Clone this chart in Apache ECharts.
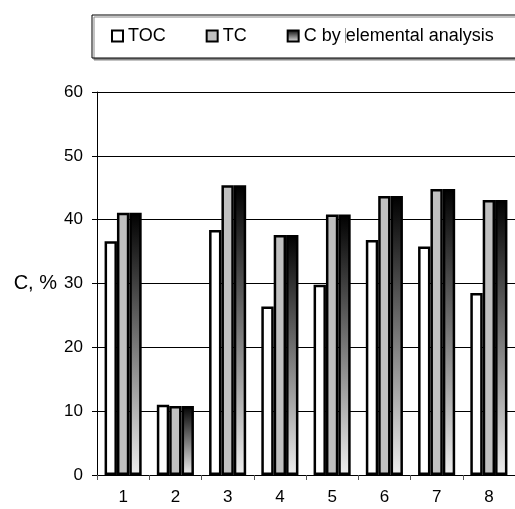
<!DOCTYPE html>
<html>
<head>
<meta charset="utf-8">
<script src="https://cdn.jsdelivr.net/npm/echarts@6/dist/echarts.min.js"></script>
<style>html,body{margin:0;padding:0;background:#fff;}#c{width:515px;height:509px;}</style>
</head>
<body>
<div id="c"></div>
<script>
var categories = ['1', '2', '3', '4', '5', '6', '7', '8'];
var tocValues = [36.6, 11.0, 38.4, 26.4, 29.8, 36.8, 35.8, 28.5];
var tcValues = [41.1, 10.8, 45.4, 37.6, 40.8, 43.7, 44.8, 43.1];
var cElemValues = [41.1, 10.8, 45.4, 37.6, 40.8, 43.7, 44.8, 43.1];
var yTicks = [0, 10, 20, 30, 40, 50, 60];

var chart = echarts.init(document.getElementById('c'));
var font = 'Liberation Sans, Arial, sans-serif';
var darkGrad = new echarts.graphic.LinearGradient(0, 0, 0, 1, [
  {offset: 0, color: '#000000'},
  {offset: 1, color: '#eeeeee'}
]);
chart.setOption({
  animation: false,
  textStyle: {fontFamily: font},
  legend: {
    left: 92, top: 15,
    width: 600,
    orient: 'horizontal',
    padding: [11, 40, 12, 19],
    itemGap: 40,
    itemWidth: 11, itemHeight: 11,
    icon: 'rect',
    borderColor: '#000', borderWidth: 1,
    shadowColor: '#888', shadowOffsetX: 2, shadowOffsetY: 2, shadowBlur: 0,
    backgroundColor: '#fff',
    textStyle: {fontSize: 18, color: '#000', fontFamily: font, lineHeight: 20},
    data: ['TOC', 'TC', 'C by elemental analysis']
  },
  grid: {left: 97, top: 92, right: -6, bottom: 34, containLabel: false},
  xAxis: {
    type: 'category',
    data: categories,
    axisLine: {lineStyle: {color: '#000', width: 1}},
    axisTick: {show: true, length: 5, lineStyle: {color: '#555'}},
    axisLabel: {fontSize: 17, color: '#000', margin: 14, fontFamily: font},
    splitLine: {show: false}
  },
  yAxis: {
    type: 'value',
    min: yTicks[0], max: yTicks[yTicks.length - 1], interval: 10,
    name: 'C, %',
    nameLocation: 'middle',
    nameRotate: 0,
    nameGap: 40,
    nameTextStyle: {fontSize: 20, color: '#000', fontFamily: font},
    axisLine: {show: true, lineStyle: {color: '#000', width: 1}},
    axisTick: {show: true, length: 5, lineStyle: {color: '#000'}},
    axisLabel: {fontSize: 17, color: '#000', margin: 14, fontFamily: font},
    splitLine: {show: true, lineStyle: {color: '#000', width: 1}}
  },
  series: [
    {
      name: 'TOC', type: 'bar', data: tocValues,
      barGap: '0%', barCategoryGap: '29%',
      itemStyle: {color: '#ffffff', borderColor: '#000', borderWidth: 2.5}
    },
    {
      name: 'TC', type: 'bar', data: tcValues,
      barGap: '0%', barCategoryGap: '29%',
      itemStyle: {color: '#c0c0c0', borderColor: '#000', borderWidth: 2.5}
    },
    {
      name: 'C by elemental analysis', type: 'bar', data: cElemValues,
      barGap: '0%', barCategoryGap: '29%',
      itemStyle: {color: darkGrad, borderColor: '#000', borderWidth: 2.5}
    }
  ],
  graphic: [{
    type: 'line', z: 100,
    shape: {x1: 345.5, y1: 28, x2: 345.5, y2: 43},
    style: {stroke: '#999', lineWidth: 1}
  }]
});
</script>
</body>
</html>
